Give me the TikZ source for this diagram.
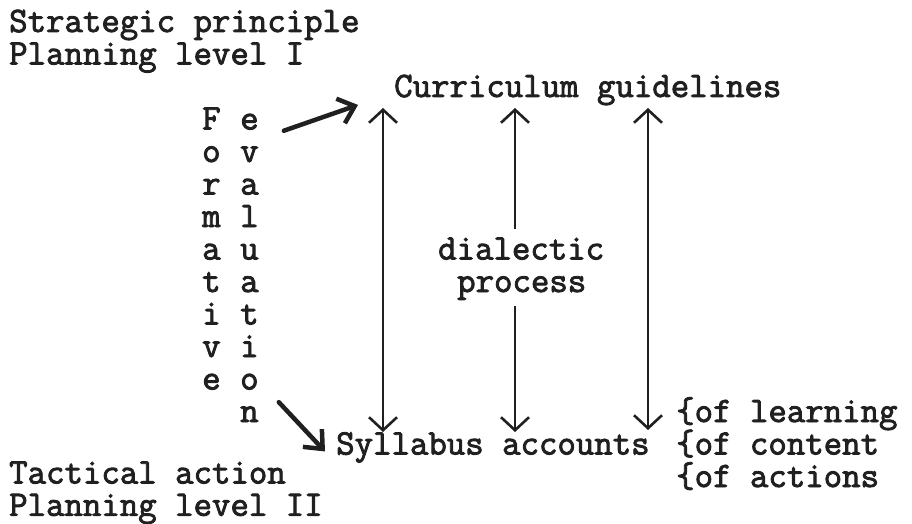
\documentclass[tikz,border=0pt]{standalone}
\usepackage{fontspec}
\setmonofont{Latin Modern Mono}[FakeBold=2.4]
\usepackage{tikz}
\usetikzlibrary{calc, positioning, arrows.meta}
\definecolor{ink}{HTML}{202020}

\begin{document}
\begin{tikzpicture}[x=1pt, y=-1pt,
		txt/.style={inner sep=0pt, anchor=base west, text=ink, font=\fontsize{35.8}{32.5}\selectfont\ttfamily},
		vtip/.tip={Straight Barb[length=13pt, width=28pt, line width=2.6pt]},
		dtip/.tip={Straight Barb[length=15pt, width=26pt]},
		dialectic/.style={draw=ink, line width=2.2pt},
		swoop/.style={draw=ink, line width=4.5pt, line cap=round, -dtip}]

		\useasboundingbox (0,0) rectangle (912,524);

		% planning levels
		\node[txt] (strat) at (9,32) {Strategic principle};
		\node[txt] (plan1) at (9,64.5) {Planning level I};
		\node[txt] (tact) at (9,483.5) {Tactical action};
		\node[txt] (plan2) at (9,515.8) {Planning level II};

		\node[txt] (curr) at (394,97) {Curriculum guidelines};
		\node[txt] (syl) at (336,454.5) {Syllabus accounts};

		\node[txt] (learn) at (676,422) {\{of learning};
		\node[txt] (cont) at (676,454.5) {\{of content};
		\node[txt] (act) at (676,487) {\{of actions};

		\node[txt] (dia) at (438,259.5) {dialectic};
		\node[txt] (proc) at (457,292) {process};

		% vertical words
		\foreach \ch [count=\i] in {F,o,r,m,a,t,i,v,e}
			\node[txt] (form\i) at (202,129.5+32.5*\i-32.5) {\ch};
		\foreach \ch [count=\i] in {e,v,a,l,u,a,t,i,o,n}
			\node[txt] (eval\i) at (240,129.5+32.5*\i-32.5) {\ch};

		% arrow ends
		\coordinate (up1) at (383,108);
		\coordinate (dn1) at (383,432);
		\coordinate (up2) at (515,108);
		\coordinate (dn2) at (515,432);
		\coordinate (up3) at (648,108);
		\coordinate (dn3) at (648,430);
		\coordinate (swA) at ($(curr.west)+(-36,15)$);
		\coordinate (swB) at ($(syl.west)+(-11,4)$);

		\draw[draw=ink, line width=1.3pt, vtip-vtip] (up1) -- (dn1);
		\draw[dialectic, vtip-] (up2) -- ($(dia.north -| up2)+(0,-8)$);
		\draw[dialectic, -vtip] ($(proc.south -| dn2)+(0,6)$) -- (dn2);
		\draw[dialectic, line width=2.4pt, vtip-vtip] (up3) -- (dn3);

		\draw[swoop] ($(eval1.east)+(25,9)$) -- (swA);
		\draw[swoop] ($(eval10.east)+(20,-12)$) -- (swB);

	\end{tikzpicture}
\end{document}
